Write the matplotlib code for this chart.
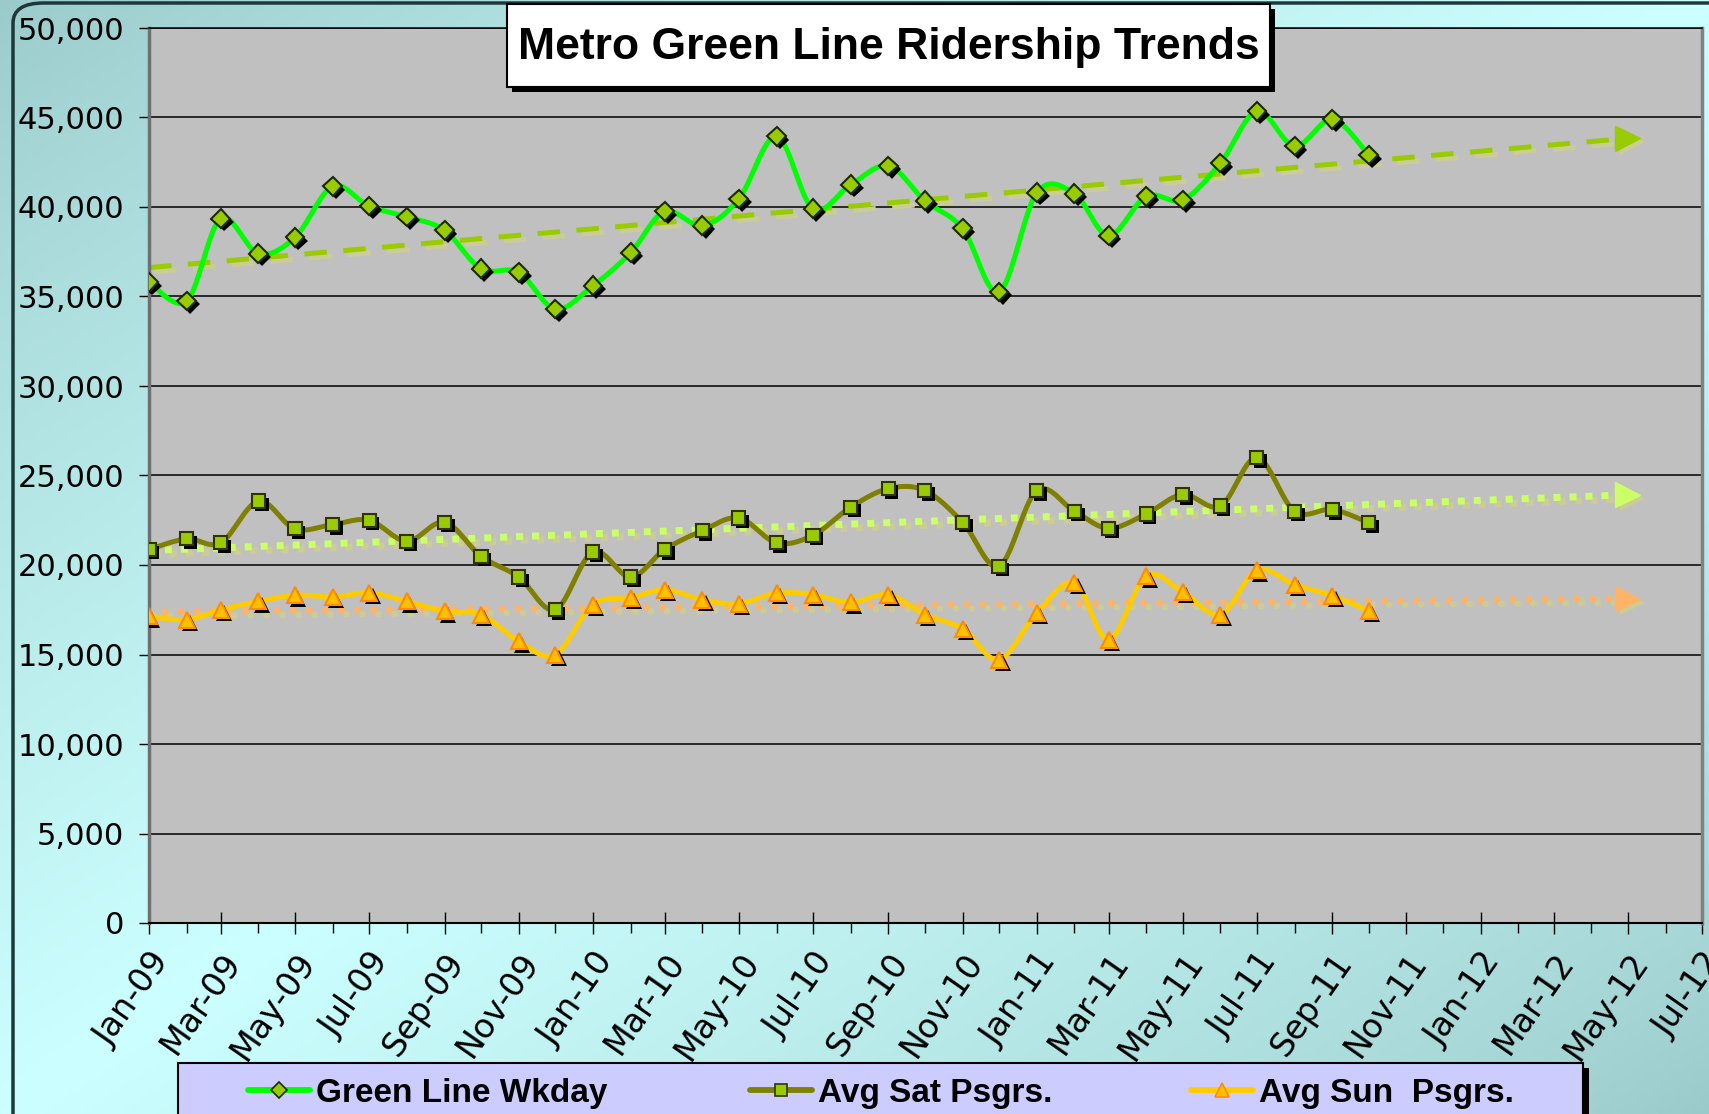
import numpy as np
import pandas as pd
import matplotlib
matplotlib.use("Agg")
import matplotlib.pyplot as plt
import matplotlib.dates as mdates
import matplotlib.patheffects as pe
from matplotlib.patches import Rectangle, FancyBboxPatch
from matplotlib.lines import Line2D
from matplotlib.ticker import FuncFormatter, MultipleLocator

# ---------------- data ----------------
months = ["2009-01", "2009-02", "2009-03", "2009-04", "2009-05", "2009-06",
          "2009-07", "2009-08", "2009-09", "2009-10", "2009-11", "2009-12",
          "2010-01", "2010-02", "2010-03", "2010-04", "2010-05", "2010-06",
          "2010-07", "2010-08", "2010-09", "2010-10", "2010-11", "2010-12",
          "2011-01", "2011-02", "2011-03", "2011-04", "2011-05", "2011-06",
          "2011-07", "2011-08", "2011-09", "2011-10"]
weekday = [35800, 34750, 39350, 37400, 38300, 41150, 40050, 39450, 38700, 36550, 36350, 34300,
           35600, 37450, 39750, 38950, 40450, 43950, 39900, 41250, 42300, 40350, 38800, 35250,
           40800, 40750, 38400, 40600, 40400, 42450, 45350, 43400, 44900, 42900]
saturday = [20870, 21460, 21240, 23570, 22020, 22260, 22500, 21330, 22390, 20490, 19330, 17500,
            20730, 19330, 20860, 21920, 22630, 21240, 21660, 23230, 24270, 24160, 22390, 19930,
            24160, 23000, 22050, 22850, 23940, 23300, 26000, 23000, 23100, 22360]
sunday = [17130, 16950, 17500, 17970, 18310, 18210, 18440, 17970, 17410, 17230, 15730, 14990,
          17790, 18160, 18620, 18060, 17840, 18440, 18340, 17910, 18340, 17230, 16430, 14710,
          17320, 19000, 15830, 19370, 18500, 17230, 19700, 18900, 18290, 17440]
series_names = ["Green Line Wkday", "Avg Sat Psgrs.", "Avg Sun  Psgrs."]
title = "Metro Green Line Ridership Trends"
forecast_months = 7
x_start, x_end = "2009-01-01", "2012-07-01"

# ---------------- figure ----------------
W, H = 1709, 1114
fig = plt.figure(figsize=(W / 100, H / 100), dpi=100)


def fx(px):
    return px / W


def fy(py):
    return 1 - py / H


# background gradient (teal -> light cyan -> teal along the diagonal)
bg = fig.add_axes([0, 0, 1, 1], zorder=-10)
yy, xx = np.mgrid[0:1:200j, 0:1:300j]
t = (xx + yy) / 2.0
w = np.clip(1 - np.abs(t - 0.5) * 2, 0, 1) ** 0.8
teal = np.array([155, 202, 202]) / 255
cyan = np.array([204, 255, 255]) / 255
img = teal[None, None, :] * (1 - w[..., None]) + cyan[None, None, :] * w[..., None]
bg.imshow(img, extent=[0, 1, 0, 1], aspect="auto", origin="upper")
bg.set_xlim(0, 1); bg.set_ylim(0, 1)
bg.axis("off")
bg.add_patch(FancyBboxPatch((fx(13), fy(1160)), 1.2, fy(3) - fy(1160),
                            boxstyle="round,pad=0,rounding_size=0.018",
                            fc="none", ec="#1c3838", lw=2.5,
                            transform=bg.transAxes, clip_on=False))

ax = fig.add_axes([fx(149), fy(923), fx(1702) - fx(149), fy(28) - fy(923)])
ax.set_facecolor("#C0C0C0")

x = pd.to_datetime(months)
xn = mdates.date2num(x)


def smooth(xs, ys, n=16):
    xs = np.asarray(xs, float); ys = np.asarray(ys, float)
    P = np.column_stack([xs, ys])
    P = np.vstack([P[0], P, P[-1]])
    out = []
    tt = np.linspace(0, 1, n)[:, None]
    for i in range(1, len(P) - 2):
        p0, p1, p2, p3 = P[i - 1], P[i], P[i + 1], P[i + 2]
        c1 = p1 + (p2 - p0) / 6
        c2 = p2 - (p3 - p1) / 6
        seg = ((1 - tt) ** 3) * p1 + 3 * ((1 - tt) ** 2) * tt * c1 + 3 * (1 - tt) * tt ** 2 * c2 + tt ** 3 * p2
        out.append(seg if i == 1 else seg[1:])
    s = np.vstack(out)
    return s[:, 0], s[:, 1]


styles = [
    dict(lc="#00FF00", marker="D", ms=9.5, mfc="#99CC00", mec="#1a2a00",
         tc="#99CC00", tlw=3.6, tls=(0, (4.5, 3.3)), tcap="butt"),
    dict(lc="#808000", marker="s", ms=9.5, mfc="#99CC00", mec="#333300",
         tc="#CCFF66", tlw=5.0, tls=(0, (1.0, 1.3)), tcap="butt"),
    dict(lc="#FFCC00", marker="^", ms=11.5, mfc="#FFC000", mec="#FF8C00",
         tc="#FFB366", tlw=5.0, tls=(0, (0.01, 2.3)), tcap="round"),
]
data = [weekday, saturday, sunday]

shadow_col = "#CCCC99"
trend_shadow = [pe.SimpleLineShadow(offset=(3.6, -2.9), shadow_color=shadow_col, alpha=1.0), pe.Normal()]
marker_shadow = [pe.SimplePatchShadow(offset=(2.5, -2.5), shadow_rgbFace="black", alpha=1.0), pe.Normal()]

# trend lines (linear fit, forecast forward)
last = x[-1] + pd.DateOffset(months=forecast_months)
for vals, st in zip(data, styles):
    k, b = np.polyfit(xn, np.asarray(vals, float), 1)
    tx = np.array([xn[0], mdates.date2num(last)])
    ty = k * tx + b
    ax.plot(tx, ty, color=st["tc"], lw=st["tlw"], linestyle=st["tls"],
            dash_capstyle=st["tcap"], path_effects=trend_shadow, zorder=2)
    ax.plot(tx[-1:], ty[-1:], linestyle="none", marker=">", ms=18, color=st["tc"],
            mec=st["tc"],
            path_effects=[pe.SimplePatchShadow(offset=(3.6, -2.9), shadow_rgbFace=shadow_col, alpha=1.0),
                          pe.Normal()],
            zorder=2)

# series lines + markers
for vals, st in zip(data, styles):
    sx, sy = smooth(xn, vals)
    ax.plot(sx, sy, color=st["lc"], lw=3.6, solid_capstyle="round", zorder=3)
    ax.plot(xn, vals, linestyle="none", marker=st["marker"], ms=st["ms"],
            mfc=st["mfc"], mec=st["mec"], mew=1.5, path_effects=marker_shadow, zorder=4)

# axes
ax.set_xlim(mdates.date2num(pd.Timestamp(x_start)), mdates.date2num(pd.Timestamp(x_end)))
ax.set_ylim(0, 50000)
ax.yaxis.set_major_locator(MultipleLocator(5000))
ax.yaxis.set_major_formatter(FuncFormatter(lambda v, p: f"{int(v):,}"))
ax.grid(axis="y", color="black", lw=1.1, zorder=1)
ax.set_axisbelow(True)
ax.xaxis.set_major_locator(mdates.MonthLocator(bymonth=[1, 3, 5, 7, 9, 11]))
ax.xaxis.set_minor_locator(mdates.MonthLocator())
ax.xaxis.set_major_formatter(mdates.DateFormatter("%b-%y"))
ax.tick_params(axis="y", direction="out", length=7, width=1, pad=11,
               labelsize=22, labelcolor="black")
ax.tick_params(axis="x", which="major", direction="inout", length=16, width=1, pad=9,
               labelsize=24)
ax.tick_params(axis="x", which="minor", direction="out", length=7, width=1)
for lab in ax.get_yticklabels():
    lab.set_fontfamily("DejaVu Sans")
for lab in ax.get_xticklabels():
    lab.set_fontfamily("DejaVu Sans")
    lab.set_rotation(55)
    lab.set_ha("right")
    lab.set_va("top")
    lab.set_rotation_mode("anchor")
ax.spines["left"].set_color("#707070"); ax.spines["left"].set_linewidth(2.5)
ax.spines["right"].set_color("#808080"); ax.spines["right"].set_linewidth(2.5)
ax.spines["bottom"].set_color("black"); ax.spines["bottom"].set_linewidth(1.5)
ax.spines["top"].set_color("black"); ax.spines["top"].set_linewidth(1.1)

# title box
fig.patches.append(Rectangle((fx(512), fy(92)), fx(1275) - fx(512), fy(9) - fy(92),
                             transform=fig.transFigure, fc="black", ec="none", zorder=5))
fig.patches.append(Rectangle((fx(507), fy(87)), fx(1270) - fx(507), fy(4) - fy(87),
                             transform=fig.transFigure, fc="white", ec="black", lw=1.5, zorder=6))
fig.text(fx(889), fy(48), title, ha="center", va="center", fontsize=32,
         fontweight="bold", family="Liberation Sans", zorder=7)

# legend (box with shadow, three entries)
fig.patches.append(Rectangle((fx(184), fy(1130)), fx(1589) - fx(184), fy(1068) - fy(1130),
                             transform=fig.transFigure, fc="black", ec="none", zorder=5))
fig.patches.append(Rectangle((fx(178), fy(1130)), fx(1583) - fx(178), fy(1063) - fy(1130),
                             transform=fig.transFigure, fc="#CCCCFF", ec="black", lw=1.5, zorder=6))
leg_y = fy(1090)
handle_x = [248, 750, 1191]
for hx, name, st in zip(handle_x, series_names, styles):
    fig.lines.append(Line2D([fx(hx), fx(hx + 62)], [leg_y, leg_y], transform=fig.transFigure,
                            color=st["lc"], lw=4.2, solid_capstyle="round", zorder=7))
    fig.lines.append(Line2D([fx(hx + 31)], [leg_y], transform=fig.transFigure, linestyle="none",
                            marker=st["marker"], ms=st["ms"] * 0.85, mfc=st["mfc"], mec=st["mec"],
                            mew=1.2, zorder=8))
    fig.text(fx(hx + 68), leg_y, name, ha="left", va="center_baseline", fontsize=24,
             fontweight="bold", family="Liberation Sans", zorder=8)

fig.savefig("out.png", dpi=100)
